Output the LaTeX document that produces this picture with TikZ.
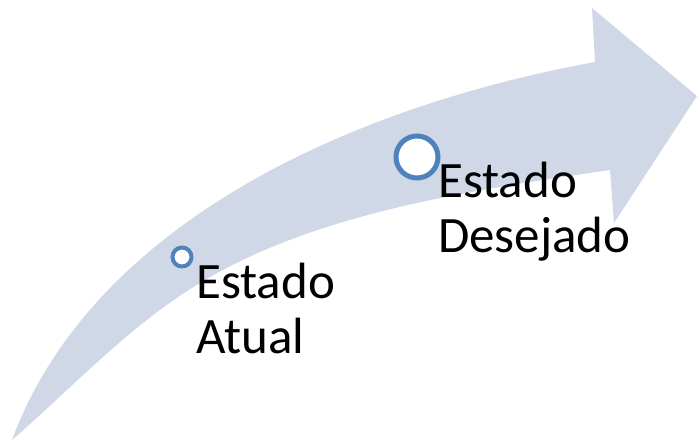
\documentclass[tikz,border=0pt]{standalone}
\usepackage{fontspec}
\setmainfont{Carlito}
\usepackage{tikz}
\definecolor{bandfill}{RGB}{208,216,232}
\definecolor{ringblue}{RGB}{79,129,189}
\tikzstyle{band}=[
	fill=bandfill,
	draw=none
]
\tikzstyle{ring}=[
	circle,
	draw=ringblue,
	fill=white,
	inner sep=0pt
]
\tikzstyle{lbl}=[
	align=left,
	inner sep=0pt,
	anchor=base west,
	font=\fontsize{51}{55}\selectfont
]

\begin{document}
\begin{tikzpicture}[x=1pt, y=-1pt]
\useasboundingbox (0,0) rectangle (697,445);
% curved arrow
\fill[band] (12,440) .. controls (92,224) and (349,107) .. (595,62)
    -- (592,8) -- (697,96) -- (614,223) -- (610,170)
    .. controls (474,190) and (317,212) .. (200,283)
    .. controls (130,325) and (74,386) .. (12,440) -- cycle;

\node[ring, line width=4pt, minimum size=19pt] (atual) at (182,257) {};
\node[ring, line width=5pt, minimum size=42pt] (desejado) at (417,157) {};

\node[lbl] (txtatual) at (196,353) {Estado\\Atual};
\node[lbl] (txtdesejado) at (438,252) {Estado\\Desejado};
\end{tikzpicture}
\end{document}
